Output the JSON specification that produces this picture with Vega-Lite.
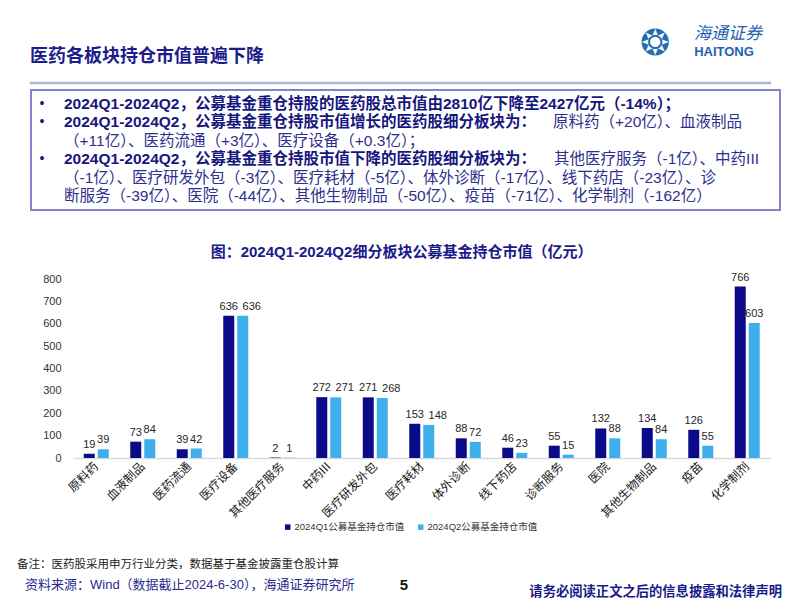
{
  "$schema": "https://vega.github.io/schema/vega-lite/v6.json",
  "padding": {"left": 17, "top": 23, "right": 0, "bottom": 0},
  "background": "white",
  "bounds": "flush",
  "spacing": 6,
  "config": {"view": {"stroke": null}, "font": "Liberation Sans, Noto Sans CJK SC"},
  "vconcat": [
    {
      "width": 739,
      "height": 0.01,
      "view": {"stroke": "#a9b7cf", "strokeWidth": 2.5},
      "layer": [
        {
          "data": {"values": [{"slot": 0, "text": "医药各板块持仓市值普遍下降"}]},
          "mark": {"type": "text", "align": "left", "baseline": "middle", "font": "Noto Sans CJK SC", "fontSize": 18, "fontWeight": "bold", "color": "#1c1c8c"},
          "encoding": {
            "x": {"field": "slot", "type": "quantitative", "scale": {"domain": [0, 1, 2, 3], "range": [-1, 624, 697, 693], "nice": false, "zero": false}, "axis": null},
            "y": {"field": "slot", "type": "quantitative", "scale": {"domain": [0, 1, 2, 3], "range": [-26, -39, -49, -31], "nice": false, "zero": false}, "axis": null},
            "text": {"field": "text"}
          }
        },
        {
          "data": {"values": [{"slot": 1, "text": "❂"}]},
          "mark": {"type": "text", "align": "center", "baseline": "middle", "font": "DejaVu Sans", "fontSize": 36, "color": "#1e6db5"},
          "encoding": {
            "x": {"field": "slot", "type": "quantitative", "axis": null},
            "y": {"field": "slot", "type": "quantitative", "axis": null},
            "text": {"field": "text"}
          }
        },
        {
          "data": {"values": [{"slot": 2, "text": "海通证券"}]},
          "mark": {"type": "text", "align": "center", "baseline": "middle", "font": "Noto Sans CJK SC", "fontSize": 17, "fontStyle": "italic", "color": "#1e63b0"},
          "encoding": {
            "x": {"field": "slot", "type": "quantitative", "axis": null},
            "y": {"field": "slot", "type": "quantitative", "axis": null},
            "text": {"field": "text"}
          }
        },
        {
          "data": {"values": [{"slot": 3, "text": "HAITONG"}]},
          "mark": {"type": "text", "align": "center", "baseline": "middle", "font": "Liberation Sans", "fontSize": 13, "fontWeight": "bold", "color": "#1e63b0"},
          "encoding": {
            "x": {"field": "slot", "type": "quantitative", "axis": null},
            "y": {"field": "slot", "type": "quantitative", "axis": null},
            "text": {"field": "text"}
          }
        }
      ]
    },
    {
      "width": 749,
      "height": 120,
      "view": {"stroke": "#8383c9", "strokeWidth": 2},
      "layer": [
        {
          "data": {"values": [{"line": 1, "col": 0, "text": "•"}, {"line": 2, "col": 0, "text": "•"}, {"line": 4, "col": 0, "text": "•"}]},
          "mark": {"type": "text", "align": "center", "baseline": "middle", "fontSize": 14, "color": "#16167e"},
          "encoding": {
            "x": {"field": "col", "type": "quantitative", "scale": {"domain": [0, 1, 2, 3], "range": [11, 33, 711, 728], "nice": false, "zero": false}, "axis": null},
            "y": {"field": "line", "type": "quantitative", "scale": {"domain": [1, 6], "range": [14, 106], "nice": false, "zero": false}, "axis": null},
            "text": {"field": "text"}
          }
        },
        {
          "data": {"values": [
            {"line": 1, "col": 1, "text": "2024Q1-2024Q2，公募基金重仓持股的医药股总市值由2810亿下降至2427亿元（-14%）；"},
            {"line": 2, "col": 1, "text": "2024Q1-2024Q2，公募基金重仓持股市值增长的医药股细分板块为："},
            {"line": 4, "col": 1, "text": "2024Q1-2024Q2，公募基金重仓持股市值下降的医药股细分板块为："}
          ]},
          "mark": {"type": "text", "align": "left", "baseline": "middle", "fontSize": 15.5, "fontWeight": "bold", "color": "#16167e"},
          "encoding": {
            "x": {"field": "col", "type": "quantitative", "axis": null},
            "y": {"field": "line", "type": "quantitative", "axis": null},
            "text": {"field": "text"}
          }
        },
        {
          "data": {"values": [
            {"line": 3, "col": 1, "text": "（+11亿）、医药流通（+3亿）、医疗设备（+0.3亿）；"},
            {"line": 5, "col": 1, "text": "（-1亿）、医疗研发外包（-3亿）、医疗耗材（-5亿）、体外诊断（-17亿）、线下药店（-23亿）、诊"},
            {"line": 6, "col": 1, "text": "断服务（-39亿）、医院（-44亿）、其他生物制品（-50亿）、疫苗（-71亿）、化学制剂（-162亿）"}
          ]},
          "mark": {"type": "text", "align": "left", "baseline": "middle", "fontSize": 15.5, "color": "#2e2e8e"},
          "encoding": {
            "x": {"field": "col", "type": "quantitative", "axis": null},
            "y": {"field": "line", "type": "quantitative", "axis": null},
            "text": {"field": "text"}
          }
        },
        {
          "data": {"values": [
            {"line": 2, "col": 2, "text": "原料药（+20亿）、血液制品"},
            {"line": 4, "col": 3, "text": "其他医疗服务（-1亿）、中药III"}
          ]},
          "mark": {"type": "text", "align": "right", "baseline": "middle", "fontSize": 15.5, "color": "#2e2e8e"},
          "encoding": {
            "x": {"field": "col", "type": "quantitative", "axis": null},
            "y": {"field": "line", "type": "quantitative", "axis": null},
            "text": {"field": "text"}
          }
        }
      ]
    },
    {
      "width": 749,
      "height": 242,
      "title": {"text": "图：2024Q1-2024Q2细分板块公募基金持仓市值（亿元）", "frame": "group", "anchor": "middle", "baseline": "middle", "offset": 0, "dy": 51, "dx": -4, "fontSize": 15, "fontWeight": "bold", "color": "#1a1a8a", "font": "Liberation Sans, Noto Sans CJK SC"},
      "data": {"values": [
        {"板块": "原料药", "期间": "2024Q1公募基金持仓市值", "市值": 19},
        {"板块": "原料药", "期间": "2024Q2公募基金持仓市值", "市值": 39},
        {"板块": "血液制品", "期间": "2024Q1公募基金持仓市值", "市值": 73},
        {"板块": "血液制品", "期间": "2024Q2公募基金持仓市值", "市值": 84},
        {"板块": "医药流通", "期间": "2024Q1公募基金持仓市值", "市值": 39},
        {"板块": "医药流通", "期间": "2024Q2公募基金持仓市值", "市值": 42},
        {"板块": "医疗设备", "期间": "2024Q1公募基金持仓市值", "市值": 636},
        {"板块": "医疗设备", "期间": "2024Q2公募基金持仓市值", "市值": 636},
        {"板块": "其他医疗服务", "期间": "2024Q1公募基金持仓市值", "市值": 2},
        {"板块": "其他医疗服务", "期间": "2024Q2公募基金持仓市值", "市值": 1},
        {"板块": "中药III", "期间": "2024Q1公募基金持仓市值", "市值": 272},
        {"板块": "中药III", "期间": "2024Q2公募基金持仓市值", "市值": 271},
        {"板块": "医疗研发外包", "期间": "2024Q1公募基金持仓市值", "市值": 271},
        {"板块": "医疗研发外包", "期间": "2024Q2公募基金持仓市值", "市值": 268},
        {"板块": "医疗耗材", "期间": "2024Q1公募基金持仓市值", "市值": 153},
        {"板块": "医疗耗材", "期间": "2024Q2公募基金持仓市值", "市值": 148},
        {"板块": "体外诊断", "期间": "2024Q1公募基金持仓市值", "市值": 88},
        {"板块": "体外诊断", "期间": "2024Q2公募基金持仓市值", "市值": 72},
        {"板块": "线下药店", "期间": "2024Q1公募基金持仓市值", "市值": 46},
        {"板块": "线下药店", "期间": "2024Q2公募基金持仓市值", "市值": 23},
        {"板块": "诊断服务", "期间": "2024Q1公募基金持仓市值", "市值": 55},
        {"板块": "诊断服务", "期间": "2024Q2公募基金持仓市值", "市值": 15},
        {"板块": "医院", "期间": "2024Q1公募基金持仓市值", "市值": 132},
        {"板块": "医院", "期间": "2024Q2公募基金持仓市值", "市值": 88},
        {"板块": "其他生物制品", "期间": "2024Q1公募基金持仓市值", "市值": 134},
        {"板块": "其他生物制品", "期间": "2024Q2公募基金持仓市值", "市值": 84},
        {"板块": "疫苗", "期间": "2024Q1公募基金持仓市值", "市值": 126},
        {"板块": "疫苗", "期间": "2024Q2公募基金持仓市值", "市值": 55},
        {"板块": "化学制剂", "期间": "2024Q1公募基金持仓市值", "市值": 766},
        {"板块": "化学制剂", "期间": "2024Q2公募基金持仓市值", "市值": 603}
      ]},
      "encoding": {
        "x": {"field": "板块", "type": "nominal", "sort": null,
              "scale": {"range": [42, 739.5], "paddingInner": 0.4624, "paddingOuter": 0.2312},
              "axis": {"title": null, "labelAngle": -45, "labelAlign": "right", "labelBaseline": "middle", "labelFontSize": 12, "labelFont": "Noto Sans CJK SC", "labelColor": "#1a1a1a", "ticks": false, "domainColor": "#d9d9d9", "domainWidth": 1.5, "labelPadding": 6, "labelLimit": 200}},
        "xOffset": {"field": "期间", "type": "nominal", "sort": null, "scale": {"paddingInner": 0.2143, "paddingOuter": 0}},
        "y": {"field": "市值", "type": "quantitative",
              "scale": {"domain": [0, 800], "range": [242, 63], "nice": false},
              "axis": {"title": null, "values": [0, 100, 200, 300, 400, 500, 600, 700, 800], "domain": false, "ticks": false, "grid": false, "labelFontSize": 11, "labelColor": "#333", "labelFont": "Liberation Sans", "labelPadding": 12, "offset": -42}}
      },
      "layer": [
        {
          "mark": {"type": "bar"},
          "encoding": {
            "color": {"field": "期间", "type": "nominal", "sort": null,
                      "scale": {"domain": ["2024Q1公募基金持仓市值", "2024Q2公募基金持仓市值"], "range": ["#0b0b8a", "#3faeec"]},
                      "legend": {"orient": "none", "legendX": 252, "legendY": 439, "direction": "horizontal", "title": null, "symbolType": "square", "symbolSize": 30, "labelFontSize": 9.5, "labelFont": "Liberation Sans, Noto Sans CJK SC", "labelColor": "#333", "columnPadding": 11, "labelOffset": 2, "padding": 0}}
          }
        },
        {
          "transform": [{"filter": "datum['期间'] === '2024Q1公募基金持仓市值'"}],
          "mark": {"type": "text", "baseline": "bottom", "dy": -4, "fontSize": 11, "font": "Liberation Sans", "color": "#262626"},
          "encoding": {"text": {"field": "市值", "type": "quantitative"}}
        },
        {
          "transform": [
            {"joinaggregate": [{"op": "max", "field": "市值", "as": "组内最大"}], "groupby": ["板块"]},
            {"filter": "datum['期间'] === '2024Q2公募基金持仓市值' && (datum['市值'] < 100 || datum['组内最大'] - datum['市值'] > 60)"}
          ],
          "mark": {"type": "text", "baseline": "bottom", "dy": -4, "fontSize": 11, "font": "Liberation Sans", "color": "#262626"},
          "encoding": {"text": {"field": "市值", "type": "quantitative"}}
        },
        {
          "transform": [
            {"joinaggregate": [{"op": "max", "field": "市值", "as": "组内最大"}], "groupby": ["板块"]},
            {"filter": "datum['期间'] === '2024Q2公募基金持仓市值' && datum['市值'] >= 100 && datum['组内最大'] - datum['市值'] <= 60"}
          ],
          "mark": {"type": "text", "baseline": "bottom", "dy": -4, "dx": 9, "fontSize": 11, "font": "Liberation Sans", "color": "#262626"},
          "encoding": {"text": {"field": "市值", "type": "quantitative"}}
        }
      ]
    },
    {
      "width": 749,
      "height": 141,
      "layer": [
        {
          "data": {"values": [{"slot": 0, "text": "备注：医药股采用申万行业分类，数据基于基金披露重仓股计算"}]},
          "mark": {"type": "text", "align": "left", "baseline": "middle", "font": "Noto Sans CJK SC", "fontSize": 11.5, "color": "#222"},
          "encoding": {
            "x": {"field": "slot", "type": "quantitative", "scale": {"domain": [0, 1, 2, 3], "range": [-14, -6, 373, 751], "nice": false, "zero": false}, "axis": null},
            "y": {"field": "slot", "type": "quantitative", "scale": {"domain": [0, 1, 2, 3], "range": [101, 121, 121, 128], "nice": false, "zero": false}, "axis": null},
            "text": {"field": "text"}
          }
        },
        {
          "data": {"values": [{"slot": 1, "text": "资料来源：Wind（数据截止2024-6-30），海通证券研究所"}]},
          "mark": {"type": "text", "align": "left", "baseline": "middle", "fontSize": 13, "color": "#2a2a90"},
          "encoding": {
            "x": {"field": "slot", "type": "quantitative", "axis": null},
            "y": {"field": "slot", "type": "quantitative", "axis": null},
            "text": {"field": "text"}
          }
        },
        {
          "data": {"values": [{"slot": 2, "text": "5"}]},
          "mark": {"type": "text", "align": "center", "baseline": "middle", "fontSize": 15, "fontWeight": "bold", "font": "Liberation Sans", "color": "#111"},
          "encoding": {
            "x": {"field": "slot", "type": "quantitative", "axis": null},
            "y": {"field": "slot", "type": "quantitative", "axis": null},
            "text": {"field": "text"}
          }
        },
        {
          "data": {"values": [{"slot": 3, "text": "请务必阅读正文之后的信息披露和法律声明"}]},
          "mark": {"type": "text", "align": "right", "baseline": "middle", "font": "Noto Sans CJK SC", "fontSize": 13.3, "fontWeight": "bold", "color": "#1a1a8a"},
          "encoding": {
            "x": {"field": "slot", "type": "quantitative", "axis": null},
            "y": {"field": "slot", "type": "quantitative", "axis": null},
            "text": {"field": "text"}
          }
        }
      ]
    }
  ]
}
